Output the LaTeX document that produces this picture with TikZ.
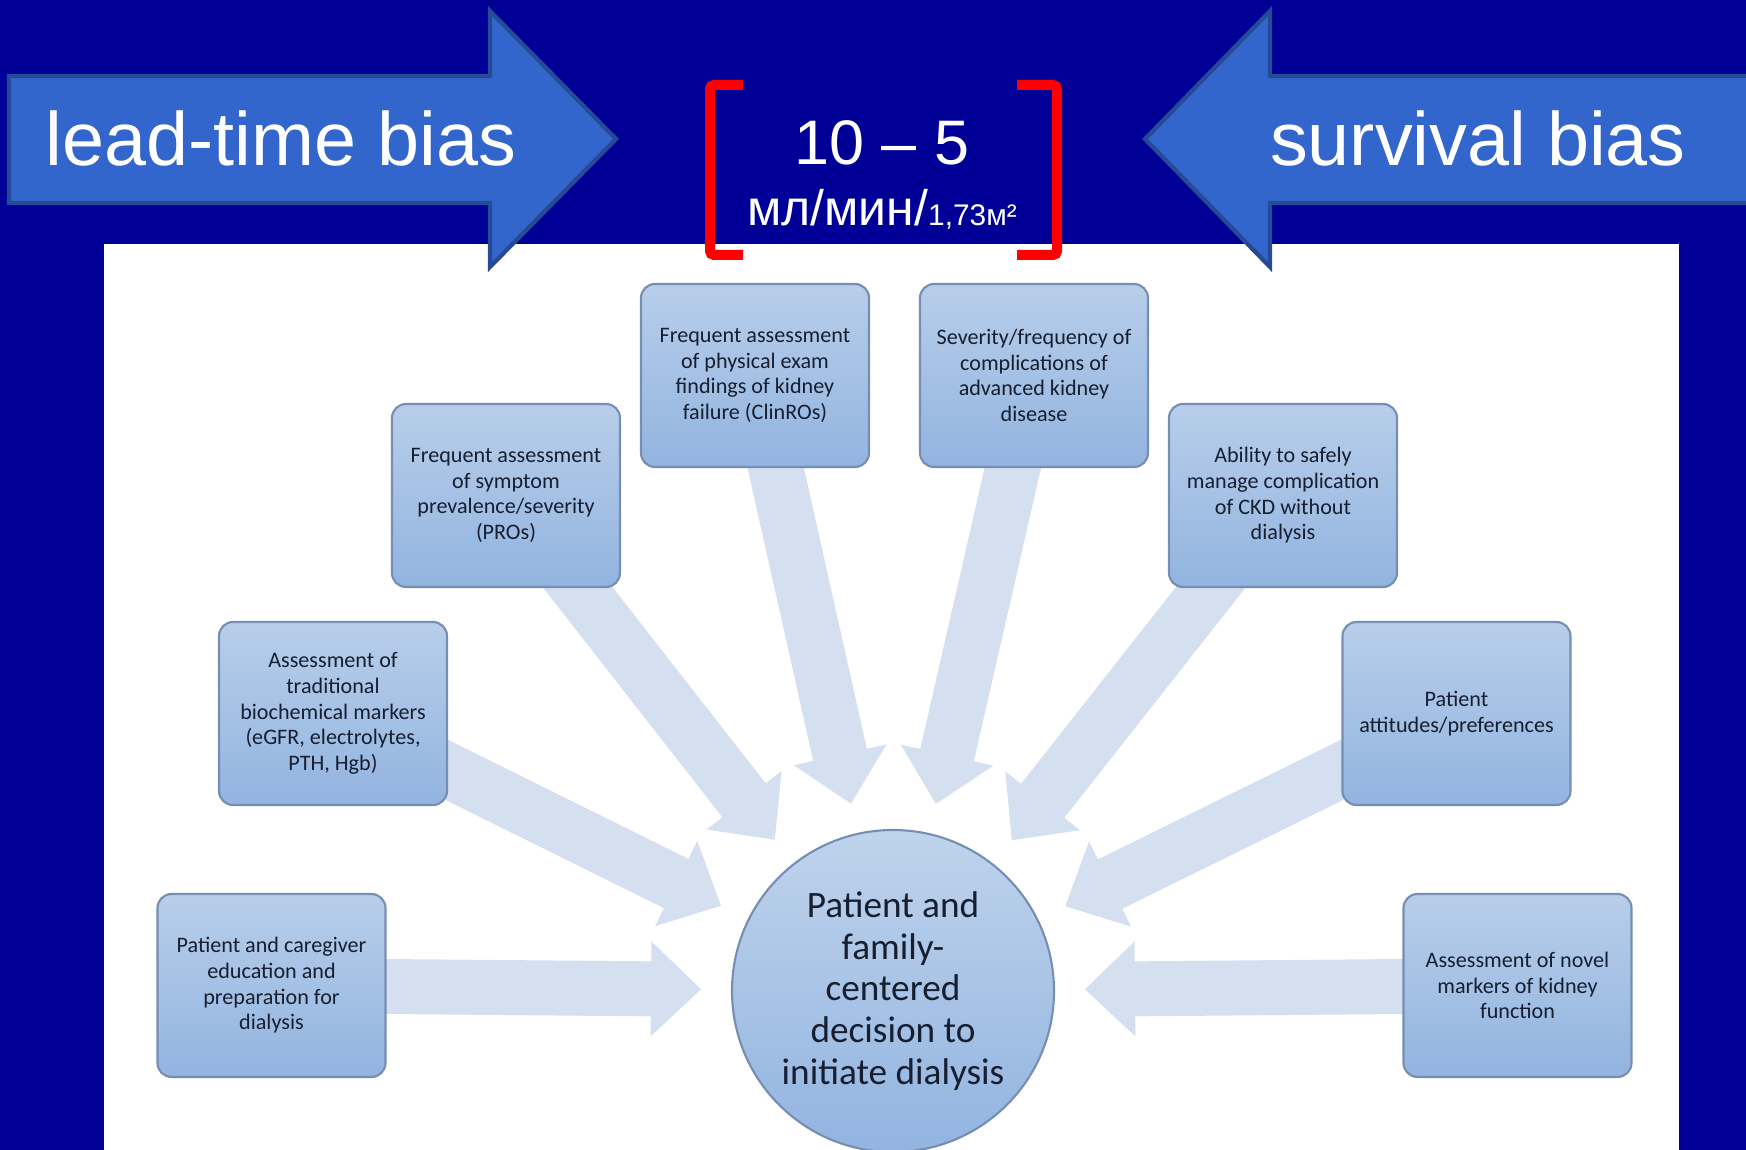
\documentclass[tikz,border=0pt]{standalone}
\usepackage{fontspec}
\setmainfont{Liberation Sans}
\newfontfamily\calib{Carlito}
\usetikzlibrary{calc,backgrounds}
\definecolor{slidebg}{RGB}{0,0,150}
\definecolor{biasblue}{RGB}{51,102,204}
\definecolor{biasedge}{RGB}{38,74,150}
\definecolor{feedblue}{RGB}{212,224,239}
\definecolor{boxtop}{RGB}{184,206,234}
\definecolor{boxbot}{RGB}{146,180,224}
\definecolor{boxedge}{RGB}{118,142,178}
\definecolor{inkdark}{RGB}{22,30,48}

% fat pale arrow from a box towards the central circle
\newcommand\feedarrow[1]{%
  \coordinate (h#1) at ($(dec.center)!2.42cm!(#1.center)$);
  \coordinate (t#1) at ($(dec.center)!1.92cm!(#1.center)$);
  \fill[feedblue] ($(#1.center)!0.275cm!90:(h#1)$) -- ($(h#1)!0.275cm!-90:(#1.center)$)
    -- ($(h#1)!0.475cm!-90:(#1.center)$) -- (t#1)
    -- ($(h#1)!0.475cm!90:(#1.center)$) -- ($(h#1)!0.275cm!90:(#1.center)$)
    -- ($(#1.center)!0.275cm!-90:(h#1)$) -- cycle;
}

\begin{document}
\begin{tikzpicture}[
    box/.style={rectangle, rounded corners=0.14cm, draw=boxedge, line width=0.6pt,
                top color=boxtop, bottom color=boxbot, minimum width=2.28cm,
                minimum height=1.83cm, align=center, text=inkdark, inner sep=1pt,
                font=\calib\fontsize{6.3}{7.3}\selectfont},
    hub/.style={circle, draw=boxedge, line width=0.6pt, top color=boxtop!90,
                bottom color=boxbot, minimum size=3.22cm, inner sep=0pt,
                align=center, text=inkdark, font=\calib\fontsize{10.6}{11.9}\selectfont},
    bias/.style={fill=biasblue, draw=biasedge, line width=1.2pt, line join=miter},
    biaslabel/.style={text=white, anchor=base, font=\fontsize{21.5}{24}\selectfont},
    redbracket/.style={draw=red, line width=0.1cm, rounded corners=0.04cm}
]
\useasboundingbox (0,0) rectangle (17.46,-11.5);

% slide and white panel
\begin{scope}[on background layer]
\fill[slidebg] (0,0) rectangle (17.46,-11.5);
\fill[white] (1.04,-2.44) rectangle (16.79,-11.6);
\end{scope}

% factors
\node[box] (clin) at (7.55,-3.755) {Frequent assessment\\of physical exam\\findings of kidney\\failure (ClinROs)};
\node[box] (sev) at (10.34,-3.755) {Severity/frequency of\\complications of\\advanced kidney\\disease};
\node[box] (pro) at (5.06,-4.955) {Frequent assessment\\of symptom\\prevalence/severity\\(PROs)};
\node[box] (safe) at (12.83,-4.955) {Ability to safely\\manage complication\\of CKD without\\dialysis};
\node[box] (bio) at (3.33,-7.135) {Assessment of\\traditional\\biochemical markers\\(eGFR, electrolytes,\\PTH, Hgb)};
\node[box] (pref) at (14.565,-7.135) {Patient\\attitudes/preferences};
\node[box] (edu) at (2.715,-9.855) {Patient and caregiver\\education and\\preparation for\\dialysis};
\node[box] (novel) at (15.175,-9.855) {Assessment of novel\\markers of kidney\\function};

% decision
\node[hub] (dec) at (8.93,-9.91) {Patient and\\family-\\centered\\decision to\\initiate dialysis};

\begin{scope}[on background layer]
\foreach \b in {clin,sev,pro,safe,bio,pref,edu,novel} {\feedarrow{\b}}
\end{scope}

% bias arrows
\draw[bias] (0.09,-0.76) -- (4.90,-0.76) -- (4.90,-0.11) -- (6.16,-1.39)
  -- (4.90,-2.67) -- (4.90,-2.03) -- (0.09,-2.03) -- cycle;
\draw[bias] (17.60,-0.76) -- (12.70,-0.76) -- (12.70,-0.11) -- (11.45,-1.39)
  -- (12.70,-2.67) -- (12.70,-2.03) -- (17.60,-2.03) -- cycle;
\node[biaslabel] (lead) at (2.81,-1.66) {lead-time bias};
\node[biaslabel] (surv) at (14.78,-1.66) {survival bias};

% eGFR range
\draw[redbracket] (7.43,-0.85) -- (7.10,-0.85) -- (7.10,-2.55) -- (7.43,-2.55);
\draw[redbracket] (10.17,-0.85) -- (10.57,-0.85) -- (10.57,-2.55) -- (10.17,-2.55);
\node[text=white, anchor=base, font=\fontsize{17.9}{20}\selectfont] (range) at (8.82,-1.65) {10 – 5};
\node[text=white, anchor=base, font=\fontsize{14.2}{16}\selectfont] (unit) at (8.82,-2.26)
  {мл/мин/{\fontsize{8.5}{10}\selectfont 1,73м²}};
\end{tikzpicture}
\end{document}
